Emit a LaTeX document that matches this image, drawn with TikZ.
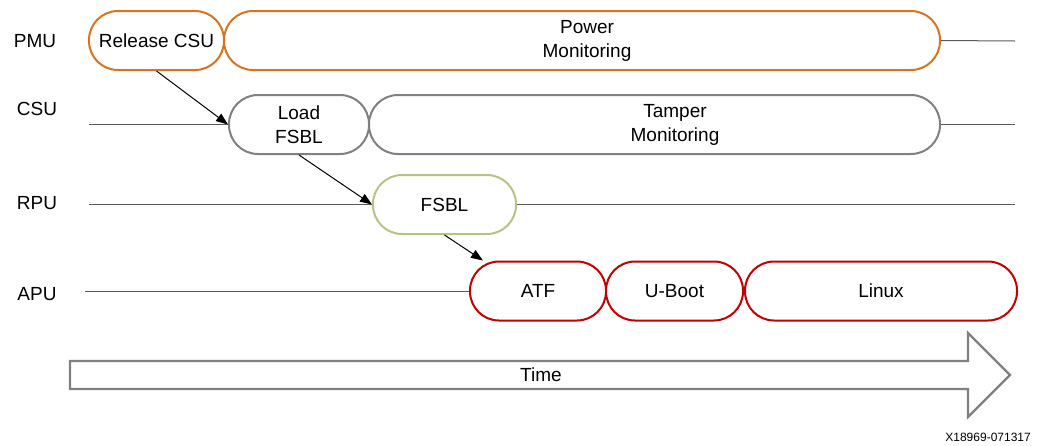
\documentclass[tikz,border=0pt]{standalone}
\usepackage{fontspec}
\setmainfont{Liberation Sans}
\usetikzlibrary{arrows.meta}
\definecolor{pmuc}{RGB}{217,115,30}
\definecolor{csuc}{RGB}{128,128,128}
\definecolor{rpuc}{RGB}{180,196,136}
\definecolor{apuc}{RGB}{194,0,0}
\definecolor{lanec}{RGB}{90,90,90}
\definecolor{timec}{RGB}{128,128,128}
\begin{document}
\begin{tikzpicture}[x=1pt,y=-1pt,
  phase/.style={draw, line width=2pt, rounded corners=29pt, minimum height=59pt,
    inner sep=0pt, align=center, font=\fontsize{19}{24}\selectfont},
  txt/.style={align=center, inner sep=0pt, font=\fontsize{19}{24}\selectfont},
  lbl/.style={font=\fontsize{19}{23}\selectfont, inner sep=0pt},
  lane/.style={draw=lanec, line width=1pt},
  flow/.style={draw=black, line width=1pt, -{Triangle[length=12pt,width=9pt]}}]
\useasboundingbox (0,0) rectangle (1039,445);
% lane labels
\node[lbl] (pmu) at (35,41) {PMU};
\node[lbl] (csu) at (37,109) {CSU};
\node[lbl] (rpu) at (37,203) {RPU};
\node[lbl] (apu) at (37,294) {APU};
% PMU row
\node[phase, draw=pmuc, minimum width=135pt] (rel) at (156.5,40.5) {Release CSU};
\node[phase, draw=pmuc, minimum width=716pt] (pow) at (582,40.5) {};
\node[txt] (powt) at (587,40.5) {Power\\Monitoring};
\coordinate (pmuend) at (1015,41);
\draw[lane] (pow.east) -- (pmuend);
% CSU row
\node[phase, draw=csuc, minimum width=140pt] (load) at (299,124.5) {Load\\FSBL};
\node[phase, draw=csuc, minimum width=571pt] (tamp) at (654.5,124.5) {};
\node[txt] (tampt) at (675,124.5) {Tamper\\Monitoring};
\coordinate (csustart) at (89,124.5);
\coordinate (csuend) at (1015,124.5);
\draw[lane] (csustart) -- (load.west);
\draw[lane] (tamp.east) -- (csuend);
% RPU row
\node[phase, draw=rpuc, minimum width=143pt] (fsbl) at (444.5,204.5) {FSBL};
\coordinate (rpustart) at (89,204.5);
\coordinate (rpuend) at (1015,204.5);
\draw[lane] (rpustart) -- (fsbl.west);
\draw[lane] (fsbl.east) -- (rpuend);
% APU row
\node[phase, draw=apuc, minimum width=136pt] (atf) at (538,291) {ATF};
\node[phase, draw=apuc, minimum width=137pt] (uboot) at (674.5,291) {U-Boot};
\node[phase, draw=apuc, minimum width=272pt] (linux) at (881,291) {Linux};
\coordinate (apustart) at (85,291);
\draw[lane] (apustart) -- (atf.west);
% handoffs
\draw[flow] (rel.south) -- (load.west);
\draw[flow] (load.south) -- (fsbl.west);
\draw[flow] (fsbl.south) -- (atf.151);
% time arrow
\draw[draw=timec, line width=2.2pt, line join=miter]
  (70,361) -- (968,361) -- (968,333) -- (1010,375) -- (968,417) -- (968,389) -- (70,389) -- cycle;
\node[lbl] (time) at (541,375) {Time};
\node[font=\fontsize{12}{14}\selectfont, inner sep=0pt, anchor=east] (fig) at (1031,437) {X18969-071317};
\end{tikzpicture}
\end{document}
